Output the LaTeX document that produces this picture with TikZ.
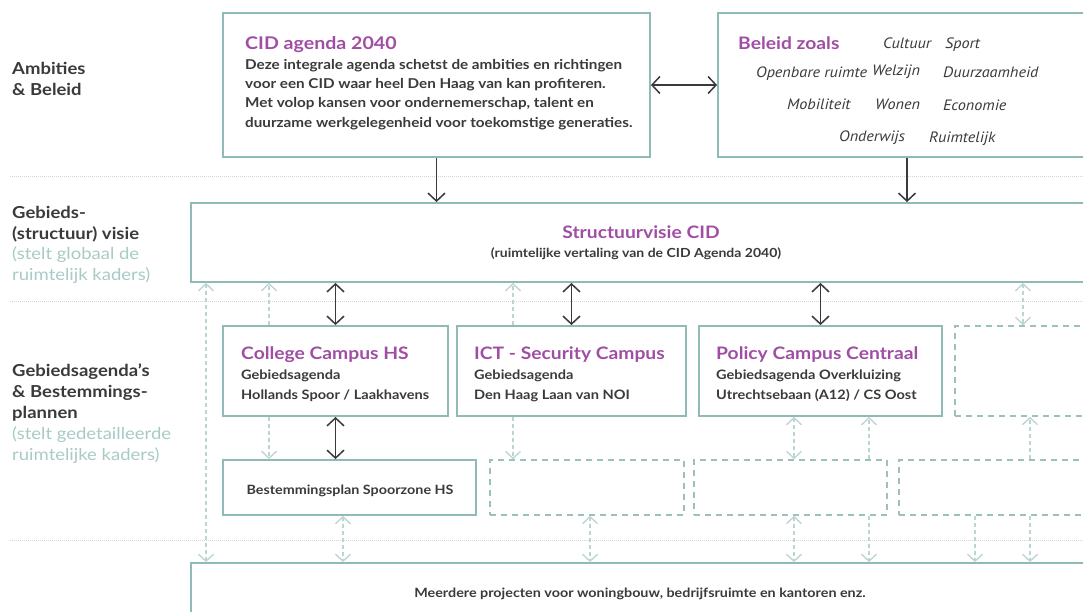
\documentclass[tikz,border=0pt]{standalone}
\usepackage{fontspec}
\setmainfont{Lato}[FakeStretch=1.12]
\newfontfamily\hand{PT Sans}[FakeStretch=1.08]
\usetikzlibrary{arrows.meta}
\definecolor{boxc}{HTML}{8FBAB5}
\definecolor{dashc}{HTML}{9CC1BD}
\definecolor{lightc}{HTML}{BCD5D2}
\definecolor{purp}{HTML}{A04EA4}
\definecolor{darkc}{HTML}{3A3A3A}
\definecolor{labc}{HTML}{A8CBC6}
\definecolor{sepc}{HTML}{D6D6D6}
\begin{document}
\begin{tikzpicture}[x=1pt,y=-1pt,
  box/.style={draw=boxc, line width=1.8pt, inner sep=0pt},
  dbox/.style={draw=dashc, line width=1.6pt, dash pattern=on 6pt off 5pt, inner sep=0pt},
  sep/.style={draw=sepc, line width=1pt, dash pattern=on 1pt off 1pt},
  arr/.style={draw=darkc, line width=1.5pt, >={Straight Barb[length=8pt,width=17pt]}},
  larr/.style={draw=lightc, line width=1.3pt, dash pattern=on 4pt off 3pt, >={Straight Barb[length=7pt,width=15pt]}},
  lab/.style={anchor=base west, inner sep=0pt, font=\fontsize{16.5}{18}\selectfont\bfseries, text=darkc},
  labl/.style={lab, text=labc, font=\fontsize{16.5}{18}\selectfont},
  ttl/.style={anchor=base west, inner sep=0pt, font=\fontsize{17.5}{20}\selectfont\bfseries, text=purp},
  stl/.style={anchor=base west, inner sep=0pt, font=\fontsize{17.2}{20}\selectfont\bfseries, text=purp},
  body/.style={anchor=base west, inner sep=0pt, font=\fontsize{13}{15}\selectfont\bfseries, text=darkc},
  cbody/.style={body, font=\fontsize{13.6}{15}\selectfont\bfseries},
  hw/.style={anchor=base west, inner sep=0pt, font=\hand\itshape\fontsize{15}{17}\selectfont, text=darkc}
]
\useasboundingbox (0,0) rectangle (1083,611);
\clip (0,0) rectangle (1083,611);
\fill[white] (0,0) rectangle (1083,611);

% separators
\draw[sep] (10,176) -- (1083,176);
\draw[sep] (10,301) -- (1083,301);
\draw[sep] (10,540) -- (1083,540);

% left labels
\node[lab] at (12,74) {Ambities};
\node[lab] at (12,95.5) {\& Beleid};
\node[lab] at (12,218) {Gebieds-};
\node[lab] at (12,239) {(structuur) visie};
\node[labl] at (12,259.5) {(stelt globaal de};
\node[labl] at (12,280) {ruimtelijk kaders)};
\node[lab] at (12,376) {Gebiedsagenda's};
\node[lab] at (12,397) {\& Bestemmings-};
\node[lab] at (12,418) {plannen};
\node[labl] at (12,439) {(stelt gedetailleerde};
\node[labl] at (12,460) {ruimtelijke kaders)};

% boxes
\node[box, minimum width=427pt, minimum height=144pt] (cid) at (436.5,85) {};
\node[box, minimum width=392pt, minimum height=144pt] (bel) at (914,85) {};
\node[box, minimum width=919pt, minimum height=79pt] (strv) at (650.5,242.5) {};
\node[box, minimum width=225pt, minimum height=90pt] (col) at (335.5,371) {};
\node[box, minimum width=229pt, minimum height=90pt] (ict) at (571.5,371) {};
\node[box, minimum width=243pt, minimum height=90pt] (pol) at (820.5,371) {};
\node[dbox, minimum width=155pt, minimum height=90pt] (d0) at (1032.5,371) {};
\node[box, minimum width=253pt, minimum height=55pt] (bpl) at (349.5,487.5) {};
\node[dbox, minimum width=194pt, minimum height=55pt] (d1) at (587,487.5) {};
\node[dbox, minimum width=193pt, minimum height=55pt] (d2) at (790.5,487.5) {};
\node[dbox, minimum width=211pt, minimum height=55pt] (d3) at (1004.5,487.5) {};
\node[box, minimum width=919pt, minimum height=87pt] (proj) at (650.5,606.5) {};

% texts in boxes
\node[ttl] at (245,49.5) {CID agenda 2040};
\node[cbody] at (245,69.5) {Deze integrale agenda schetst de ambities en richtingen};
\node[cbody] at (245,88) {voor een CID waar heel Den Haag van kan profiteren.};
\node[cbody] at (245,107.5) {Met volop kansen voor ondernemerschap, talent en};
\node[cbody] at (245,127) {duurzame werkgelegenheid voor toekomstige generaties.};

\node[stl] at (738,49) {Beleid zoals};
\node[hw] at (883,48) {Cultuur};
\node[hw] at (945,48) {Sport};
\node[hw] at (756,77) {Openbare ruimte};
\node[hw] at (872,75) {Welzijn};
\node[hw] at (943,77) {Duurzaamheid};
\node[hw] at (787,109) {Mobiliteit};
\node[hw] at (875,109) {Wonen};
\node[hw] at (943,110) {Economie};
\node[hw] at (839,141) {Onderwijs};
\node[hw] at (929,142) {Ruimtelijk};

\node[stl, anchor=base] at (641,238) {Structuurvisie CID};
\node[body, anchor=base, font=\fontsize{12.5}{14}\selectfont\bfseries] at (636,257.5) {(ruimtelijke vertaling van de CID Agenda 2040)};

\node[stl] at (241,359) {College Campus HS};
\node[body] at (241,379) {Gebiedsagenda};
\node[body] at (241,399) {Hollands Spoor / Laakhavens};
\node[stl] at (474,359) {ICT - Security Campus};
\node[body] at (474,379) {Gebiedsagenda};
\node[body] at (474,399) {Den Haag Laan van NOI};
\node[stl] at (716,359) {Policy Campus Centraal};
\node[body] at (716,379) {Gebiedsagenda Overkluizing};
\node[body] at (716,399) {Utrechtsebaan (A12) / CS Oost};

\node[body, anchor=base, font=\fontsize{12.8}{14}\selectfont\bfseries] at (350,494.5) {Bestemmingsplan Spoorzone HS};
\node[body, anchor=base, font=\fontsize{12.8}{14}\selectfont\bfseries] at (640,597) {Meerdere projecten voor woningbouw, bedrijfsruimte en kantoren enz.};

% x positions for light connectors
\coordinate (x206) at (206,0);
\coordinate (x269) at (269,0);
\coordinate (x343) at (343,0);
\coordinate (x513) at (513,0);
\coordinate (x590) at (590,0);
\coordinate (x794) at (794,0);
\coordinate (x869) at (869,0);
\coordinate (x975) at (975,0);
\coordinate (x1023) at (1023,0);
\coordinate (x1030) at (1030,0);
\coordinate (x907) at (907,0);

% light dashed connectors
\draw[larr,<->] (strv.south -| x206) -- (proj.north -| x206);
\draw[larr,->] (col.north -| x269) -- (strv.south -| x269);
\draw[larr,->] (ict.north -| x513) -- (strv.south -| x513);
\draw[larr,<->] (strv.south -| x1023) -- (d0.north -| x1023);
\draw[larr,->] (col.south -| x269) -- (bpl.north -| x269);
\draw[larr,->] (ict.south -| x513) -- (d1.north -| x513);
\draw[larr,<->] (pol.south -| x794) -- (d2.north -| x794);
\draw[larr,->] (d2.north -| x869) -- (pol.south -| x869);
\draw[larr,->] (d3.north -| x1030) -- (d0.south -| x1030);
\draw[larr,<->] (bpl.south -| x343) -- (proj.north -| x343);
\draw[larr,<->] (d1.south -| x590) -- (proj.north -| x590);
\draw[larr,<->] (d2.south -| x794) -- (proj.north -| x794);
\draw[larr,->] (d2.south -| x869) -- (proj.north -| x869);
\draw[larr,->] (d3.south -| x975) -- (proj.north -| x975);
\draw[larr,->] (d3.south -| x1030) -- (proj.north -| x1030);

% black connectors
\draw[arr,<->] (cid.east) -- (bel.west);
\draw[arr,->] (cid.south) -- (cid.south |- strv.north);
\draw[arr,->] (bel.south -| x907) -- (strv.north -| x907);
\draw[arr,<->] (strv.south -| col.north) -- (col.north);
\draw[arr,<->] (strv.south -| ict.north) -- (ict.north);
\draw[arr,<->] (strv.south -| pol.north) -- (pol.north);
\draw[arr,<->] (col.south) -- (col.south |- bpl.north);
\end{tikzpicture}
\end{document}
